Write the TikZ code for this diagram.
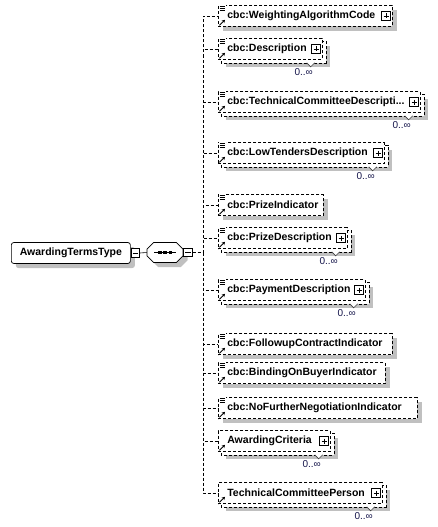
\documentclass[tikz,border=0pt]{standalone}
\usepackage{fontspec}
\setmainfont{Liberation Sans}
\usetikzlibrary{shapes.misc,arrows.meta,calc,backgrounds,shadows}
\definecolor{shadowgray}{HTML}{C0C0C0}
\definecolor{multblue}{HTML}{14144A}
\newcommand{\namefont}{\bfseries\fontsize{10.5}{12}\selectfont}

\tikzset{
  attrmark/.pic={
    \fill[white] (0.5,-0.5) rectangle (8,6.5);
    \draw[line width=0.7pt] (1.5,1) -- (7,1) (1.5,3) -- (7,3) (1.5,5) -- (7,5);
  },
  refmark/.pic={
    \draw[line width=0.9pt, -{Stealth[length=3pt,width=3.5pt]}] (1.5,-1.5) -- (7,-7);
  },
  plusmark/.pic={
    \draw[fill=white, line width=0.6pt] (-11,-4.5) rectangle (-2,4.5);
    \draw[line width=0.6pt] (-9,0) -- (-4,0) (-6.5,-2.5) -- (-6.5,2.5);
  }
}

\begin{document}
\begin{tikzpicture}[x=1pt, y=-1pt, line width=0.7pt,
  boxshadow/.style={drop shadow={shadow xshift=4.5pt, shadow yshift=-4.5pt, fill=shadowgray, opacity=1}},
  elem/.style={draw, dash pattern=on 3pt off 2pt, fill=white, anchor=west, minimum height=21pt,
    inner xsep=9pt, inner ysep=0pt, text width=#1, align=left, font=\namefont},
  single/.style={elem=#1, boxshadow},
  multi/.style={elem=#1},
  backbox/.style={draw, dash pattern=on 3pt off 2pt, fill=white, boxshadow},
  notch/.style={draw=black!75, fill=white, line width=0.6pt},
  mult/.style={anchor=north east, inner sep=0.5pt, text=multblue, font=\fontsize{10}{12}\selectfont},
  rootbox/.style={draw, rounded corners=2.5pt, fill=white, anchor=west, minimum width=119pt,
    minimum height=21pt, font=\namefont, boxshadow},
  seqbox/.style={chamfered rectangle, chamfered rectangle xsep=5pt, chamfered rectangle ysep=5pt,
    draw, fill=white, minimum width=36pt, minimum height=20pt, boxshadow},
  togglebox/.style={draw, fill=white, anchor=west, minimum size=8.5pt, inner sep=0pt},
  conn/.style={dash pattern=on 3pt off 2pt, line width=0.6pt},
  link/.style={line width=0.6pt}
]
  \useasboundingbox (0,0) rectangle (437,527);

  % root type and its sequence
  \node[rootbox] (root) at (11,253) {AwardingTermsType};
  \node[togglebox] (rootm) at (root.east) {};
  \draw[link] ($(rootm.west)+(2,0)$) -- ($(rootm.east)+(-2,0)$);
  \node[seqbox] (seq) at (165,252.5) {};
  \node[togglebox] (seqm) at (seq.east) {};
  \draw[link] ($(seqm.west)+(2,0)$) -- ($(seqm.east)+(-2,0)$);
  \draw[link] (rootm.east) -- (seq.west);
  \draw[link] ($(seq.center)+(-11,0)$) -- ($(seq.center)+(11,0)$);
  \fill ($(seq.center)+(-7,-1.5)$) rectangle ++(3.5,3);
  \fill ($(seq.center)+(-1.75,-1.5)$) rectangle ++(3.5,3);
  \fill ($(seq.center)+(3.5,-1.5)$) rectangle ++(3.5,3);
  \coordinate (spine) at (203,252.5);

  % child elements
  \node[single=156pt] (wac) at (218,16) {cbc:WeightingAlgorithmCode};
  \pic at (wac.north west) {attrmark}; \pic at (wac.south west) {refmark}; \pic at (wac.east) {plusmark};
  \node[multi=86pt] (desc) at (218,49) {cbc:Description};
  \pic at (desc.north west) {attrmark}; \pic at (desc.south west) {refmark}; \pic at (desc.east) {plusmark};
  \node[multi=184pt] (tcd) at (218,102) {cbc:TechnicalCommitteeDescripti...};
  \pic at (tcd.north west) {attrmark}; \pic at (tcd.south west) {refmark}; \pic at (tcd.east) {plusmark};
  \node[multi=148pt] (ltd) at (218,153) {cbc:LowTendersDescription};
  \pic at (ltd.north west) {attrmark}; \pic at (ltd.south west) {refmark}; \pic at (ltd.east) {plusmark};
  \node[single=87pt] (pind) at (218,205) {cbc:PrizeIndicator};
  \pic at (pind.north west) {attrmark}; \pic at (pind.south west) {refmark};
  \node[multi=111pt] (pdesc) at (218,238) {cbc:PrizeDescription};
  \pic at (pdesc.north west) {attrmark}; \pic at (pdesc.south west) {refmark}; \pic at (pdesc.east) {plusmark};
  \node[multi=129pt] (pay) at (218,290) {cbc:PaymentDescription};
  \pic at (pay.north west) {attrmark}; \pic at (pay.south west) {refmark}; \pic at (pay.east) {plusmark};
  \node[single=156pt] (fci) at (218,344) {cbc:FollowupContractIndicator};
  \pic at (fci.north west) {attrmark}; \pic at (fci.south west) {refmark};
  \node[single=149pt] (bobi) at (218,373) {cbc:BindingOnBuyerIndicator};
  \pic at (bobi.north west) {attrmark}; \pic at (bobi.south west) {refmark};
  \node[single=181pt] (nfni) at (218,408) {cbc:NoFurtherNegotiationIndicator};
  \pic at (nfni.north west) {attrmark}; \pic at (nfni.south west) {refmark};
  \node[multi=94pt] (ac) at (218,441) {AwardingCriteria};
  \pic at (ac.south west) {refmark}; \pic at (ac.east) {plusmark};
  \node[multi=146pt] (tcp) at (218,493) {TechnicalCommitteePerson};
  \pic at (tcp.south west) {refmark}; \pic at (tcp.east) {plusmark};

  % stacked copies for repeating elements
  \begin{scope}[on background layer]
    \draw[backbox] ($(desc.north west)+(3,3)$) rectangle ($(desc.south east)+(3,3)$);
    \draw[backbox] ($(tcd.north west)+(3,3)$) rectangle ($(tcd.south east)+(3,3)$);
    \draw[backbox] ($(ltd.north west)+(3,3)$) rectangle ($(ltd.south east)+(3,3)$);
    \draw[backbox] ($(pdesc.north west)+(3,3)$) rectangle ($(pdesc.south east)+(3,3)$);
    \draw[backbox] ($(pay.north west)+(3,3)$) rectangle ($(pay.south east)+(3,3)$);
    \draw[backbox] ($(ac.north west)+(3,3)$) rectangle ($(ac.south east)+(3,3)$);
    \draw[backbox] ($(tcp.north west)+(3,3)$) rectangle ($(tcp.south east)+(3,3)$);
  \end{scope}
  \draw[notch] ($(desc.south east)+(-16,3)$) -- ++(4,4) -- ++(4,-4);
  \draw[notch] ($(tcd.south east)+(-16,3)$) -- ++(4,4) -- ++(4,-4);
  \draw[notch] ($(ltd.south east)+(-16,3)$) -- ++(4,4) -- ++(4,-4);
  \draw[notch] ($(pdesc.south east)+(-16,3)$) -- ++(4,4) -- ++(4,-4);
  \draw[notch] ($(pay.south east)+(-16,3)$) -- ++(4,4) -- ++(4,-4);
  \draw[notch] ($(ac.south east)+(-16,3)$) -- ++(4,4) -- ++(4,-4);
  \draw[notch] ($(tcp.south east)+(-16,3)$) -- ++(4,4) -- ++(4,-4);

  % occurrence labels
  \node[mult] (descn) at ($(desc.south east)+(-9,8)$) {0..∞};
  \node[mult] (tcdn) at ($(tcd.south east)+(-9,8)$) {0..∞};
  \node[mult] (ltdn) at ($(ltd.south east)+(-9,8)$) {0..∞};
  \node[mult] (pdescn) at ($(pdesc.south east)+(-9,8)$) {0..∞};
  \node[mult] (payn) at ($(pay.south east)+(-9,8)$) {0..∞};
  \node[mult] (acn) at ($(ac.south east)+(-9,8)$) {0..∞};
  \node[mult] (tcpn) at ($(tcp.south east)+(-9,8)$) {0..∞};

  % connectors
  \draw[conn] (seqm.east) -- (spine)
    (spine) |- (wac.west) (spine) |- (desc.west) (spine) |- (tcd.west)
    (spine) |- (ltd.west) (spine) |- (pind.west) (spine) |- (pdesc.west)
    (spine) |- (pay.west) (spine) |- (fci.west) (spine) |- (bobi.west)
    (spine) |- (nfni.west) (spine) |- (ac.west) (spine) |- (tcp.west);
\end{tikzpicture}
\end{document}
